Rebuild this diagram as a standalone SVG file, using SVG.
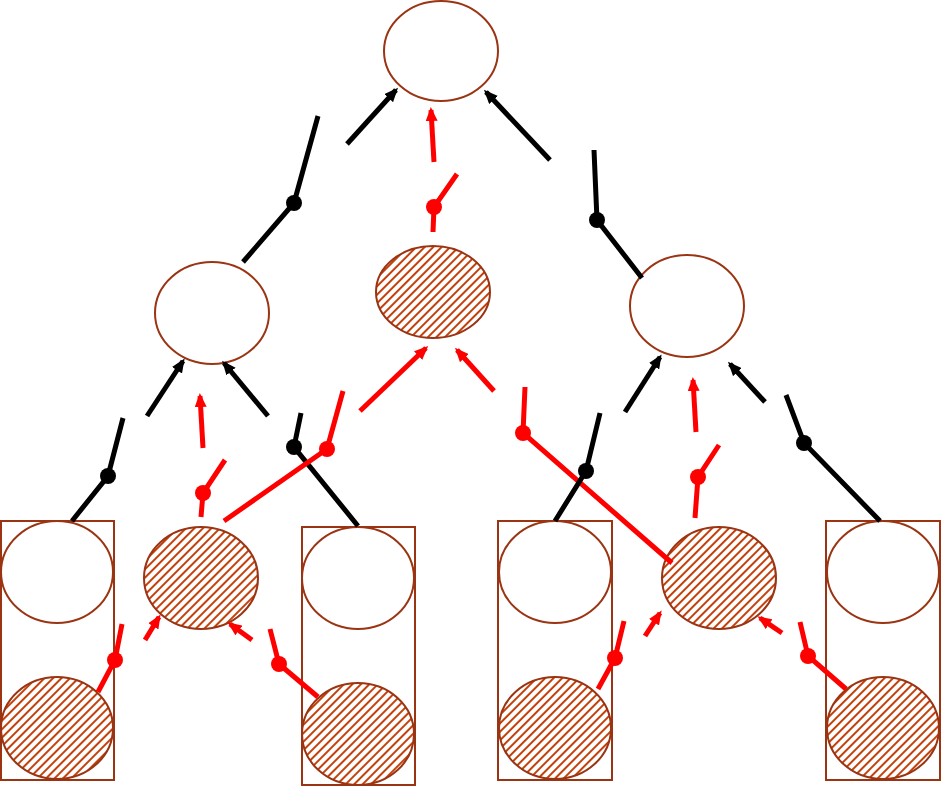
<svg xmlns="http://www.w3.org/2000/svg" width="941" height="786" viewBox="0 0 941 786">
<style>
.n{fill:#fff;stroke:#9A3412;stroke-width:2}
.h{fill:url(#hatch);stroke:#9A3412;stroke-width:2}
.b{fill:#fff;stroke:#9A3412;stroke-width:2}
.k{stroke:#000;stroke-width:5;fill:none}
.r{stroke:#f00;stroke-width:5;fill:none}
.ka{stroke:#000;stroke-width:5;fill:none;marker-end:url(#ak)}
.ra{stroke:#f00;stroke-width:5;fill:none;marker-end:url(#ar)}
.dk{fill:#000}.dr{fill:#f00}
</style>
<defs>
<pattern id="hatch" patternUnits="userSpaceOnUse" width="6" height="6" patternTransform="rotate(45)">
<rect width="6" height="6" fill="#fff"/><rect width="2" height="6" fill="#C2410C"/>
</pattern>
<marker id="ak" markerUnits="userSpaceOnUse" markerWidth="14" markerHeight="12" refX="11" refY="6" orient="auto"><path d="M0,0L14,6L0,12z" fill="#000"/></marker>
<marker id="ar" markerUnits="userSpaceOnUse" markerWidth="14" markerHeight="12" refX="11" refY="6" orient="auto"><path d="M0,0L14,6L0,12z" fill="#f00"/></marker>
</defs>
<g id="boxes">
<rect class="b" x="1" y="521" width="113" height="259"/>
<rect class="b" x="302" y="527" width="113" height="258"/>
<rect class="b" x="498" y="521" width="114" height="259"/>
<rect class="b" x="826" y="521" width="114" height="259"/>
</g>
<g id="top"><ellipse class="n" cx="441" cy="51" rx="57" ry="50"/></g>
<g id="midL"><ellipse class="n" cx="212" cy="313" rx="57" ry="51"/></g>
<g id="midC"><ellipse class="h" cx="433" cy="292" rx="57" ry="46"/></g>
<g id="midR"><ellipse class="n" cx="687" cy="306" rx="57" ry="51"/></g>
<g id="botL"><ellipse class="h" cx="201" cy="578" rx="57" ry="51"/></g>
<g id="botR"><ellipse class="h" cx="719" cy="578" rx="57" ry="51"/></g>
<g id="b1"><ellipse class="n" cx="57" cy="572" rx="56" ry="51"/><ellipse class="h" cx="57" cy="728" rx="56" ry="51"/></g>
<g id="b2"><ellipse class="n" cx="358" cy="578" rx="56" ry="51"/><ellipse class="h" cx="358" cy="734" rx="56" ry="51"/></g>
<g id="b3"><ellipse class="n" cx="555" cy="572" rx="56" ry="51"/><ellipse class="h" cx="555" cy="728" rx="56" ry="51"/></g>
<g id="b4"><ellipse class="n" cx="883" cy="572" rx="56" ry="51"/><ellipse class="h" cx="883" cy="728" rx="56" ry="51"/></g>
<g id="connectors">
<polyline class="k" points="243,262 294,203 318,116"/><circle class="dk" cx="294" cy="203" r="8"/><line class="ka" x1="347" y1="144" x2="396" y2="90"/>
<polyline class="k" points="642,278 597,220 594,150"/><circle class="dk" cx="597" cy="220" r="8"/><line class="ka" x1="550" y1="160" x2="486" y2="92"/>
<polyline class="r" points="433,232 434,207 457,174"/><circle class="dr" cx="434" cy="207" r="8"/><line class="ra" x1="434" y1="162" x2="431" y2="110"/>
<polyline class="k" points="72,521 108,476 123,418"/><circle class="dk" cx="108" cy="476" r="8"/><line class="ka" x1="147" y1="416" x2="183" y2="361"/>
<polyline class="k" points="358,526 294,447 301,413"/><circle class="dk" cx="294" cy="447" r="8"/><line class="ka" x1="268" y1="416" x2="224" y2="363"/>
<polyline class="r" points="201,517 203,493 225,460"/><circle class="dr" cx="203" cy="493" r="8"/><line class="ra" x1="203" y1="448" x2="200" y2="396"/>
<polyline class="r" points="224,521 327,449 343,391"/><circle class="dr" cx="327" cy="449" r="8"/><line class="ra" x1="360" y1="411" x2="426" y2="348"/>
<polyline class="r" points="672,563 523,433 525,387"/><circle class="dr" cx="523" cy="433" r="8"/><line class="ra" x1="494" y1="391" x2="457" y2="350"/>
<polyline class="k" points="555,521 586,471 600,413"/><circle class="dk" cx="586" cy="471" r="8"/><line class="ka" x1="625" y1="412" x2="660" y2="357"/>
<polyline class="k" points="880,521 804,443 786,395"/><circle class="dk" cx="804" cy="443" r="8"/><line class="ka" x1="765" y1="402" x2="730" y2="364"/>
<polyline class="r" points="695,518 698,477 719,445"/><circle class="dr" cx="698" cy="477" r="8"/><line class="ra" x1="696" y1="432" x2="693" y2="380"/>
<polyline class="r" points="98,692 115,660 122,624"/><circle class="dr" cx="115" cy="660" r="8"/><line class="ra" x1="145" y1="640" x2="159" y2="617"/>
<polyline class="r" points="318,697 279,664 270,629"/><circle class="dr" cx="279" cy="664" r="8"/><line class="ra" x1="252" y1="640" x2="230" y2="624"/>
<polyline class="r" points="598,689 615,658 624,621"/><circle class="dr" cx="615" cy="658" r="8"/><line class="ra" x1="645" y1="636" x2="660" y2="613"/>
<polyline class="r" points="846,689 808,656 800,622"/><circle class="dr" cx="808" cy="656" r="8"/><line class="ra" x1="782" y1="633" x2="760" y2="618"/>
</g>
</svg>
